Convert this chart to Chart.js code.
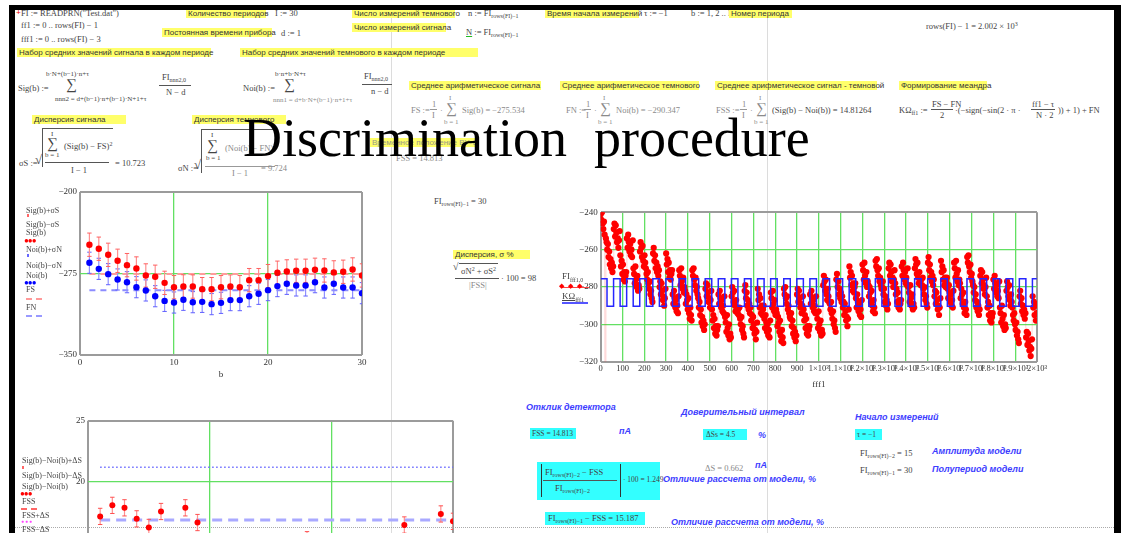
<!DOCTYPE html>
<html>
<head>
<meta charset="utf-8">
<script src="https://cdn.jsdelivr.net/npm/chart.js"></script>
<style>
  html, body { margin: 0; padding: 0; width: 1130px; height: 533px; overflow: hidden; background: #fff; }
  #page { position: absolute; left: 0; top: 0; width: 1130px; height: 533px; overflow: hidden; background: #fff; }
  .frame { position: absolute; background: #000; }
  .vline { position: absolute; top: 10px; width: 1px; height: 523px; background: #dcdcdc; }
  .hdots { position: absolute; left: 15px; top: 527px; width: 1099px; height: 0; border-top: 1px dotted #aaa; }
  canvas { position: absolute; }
  .m { position: absolute; font-family: "Liberation Serif", serif; font-size: 8.5px; color: #444; white-space: nowrap; line-height: 1; }
  .lt { color: #8a8a8a; }
  .s6 { font-size: 7px; }
  .sg { font-size: 15px; }
  .m sub { font-size: 6px; vertical-align: -2px; }
  .m sup { font-size: 6px; vertical-align: 3px; }
  .ru { position: absolute; font-family: "Liberation Sans", sans-serif; font-size: 8px; color: #333; background: #ffff6a; white-space: nowrap; line-height: 9px; padding: 0 2px; }
  .bar { position: absolute; height: 0; border-top: 1px solid #555; }
  .rad { position: absolute; border-top: 1px solid #555; border-left: 1px solid #555; }
  .bl { position: absolute; font-family: "Liberation Sans", sans-serif; font-style: italic; font-weight: bold; font-size: 9px; color: #3d3dff; white-space: nowrap; line-height: 1; }
  .cy { position: absolute; background: #3ff; }
  .lg { position: absolute; font-family: "Liberation Serif", serif; font-size: 8px; color: #444; white-space: nowrap; line-height: 1; }
  .sym { position: absolute; height: 0; }
  .dots { position: absolute; font-size: 8px; line-height: 1; letter-spacing: -1px; }
  #title { position: absolute; left: 243px; top: 111px; font-family: "Liberation Serif", serif; font-size: 54px; line-height: 54px; color: #000; white-space: pre; }
</style>
</head>
<body>
<div id="page">
  <!-- page boundaries of the worksheet -->
  <div class="vline" style="left:391px"></div>
  <div class="vline" style="left:767px"></div>
  <div class="hdots"></div>

  <!-- plots -->
  <canvas id="cBars" width="340" height="200" style="left:40px;top:180px"></canvas>
  <canvas id="cTrace" width="500" height="190" style="left:560px;top:200px"></canvas>
  <canvas id="cDiff" width="420" height="165" style="left:50px;top:410px"></canvas>

  <!-- header definitions -->
  <div class="m" style="left:16px;top:8px;color:#e00;font-weight:bold">+</div>
  <div class="m" style="left:21px;top:9px">FI := READPRN("Test.dat")</div>
  <div class="m" style="left:21px;top:21px">ff1 := 0 .. rows(FI) − 1</div>
  <div class="m" style="left:21px;top:35px">fff1 := 0 .. rows(FI) − 3</div>

  <div class="ru" style="left:186px;top:9px;width:76px">Количество периодов</div>
  <div class="m" style="left:275px;top:9px">I := 30</div>
  <div class="ru" style="left:162px;top:28px;width:106px">Постоянная времени прибора</div>
  <div class="m" style="left:281px;top:29px">d := 1</div>
  <div class="ru" style="left:352px;top:9px;width:99px">Число измерений темнового</div>
  <div class="m" style="left:468px;top:9px">n := FI<sub>rows(FI)−1</sub></div>
  <div class="ru" style="left:352px;top:23px;width:90px">Число измерений сигнала</div>
  <div class="m" style="left:466px;top:28px"><u style="text-decoration-color:#2b2">N</u> := FI<sub>rows(FI)−1</sub></div>
  <div class="ru" style="left:545px;top:9px;width:90px">Время начала измерений</div>
  <div class="m" style="left:644px;top:9px">τ := −1</div>
  <div class="m" style="left:691px;top:9px">b := 1, 2 .. I</div>
  <div class="ru" style="left:729px;top:9px;width:59px">Номер периода</div>
  <div class="m" style="left:926px;top:21px">rows(FI) − 1 = 2.002 × 10<sup>3</sup></div>

  <div class="ru" style="left:17px;top:48px;width:190px">Набор средних значений сигнала в каждом периоде</div>
  <div class="ru" style="left:240px;top:48px;width:234px">Набор средних значений темнового в каждом периоде</div>

  <!-- Sig(b) -->
  <div class="m" style="left:18px;top:84px">Sig(b) :=</div>
  <div class="m s6" style="left:46px;top:71px">b·N+(b−1)·n+τ</div>
  <div class="m sg" style="left:66px;top:77px">∑</div>
  <div class="m s6" style="left:55px;top:96px">nnn2 = d+(b−1)·n+(b−1)·N+1+τ</div>
  <div class="m" style="left:162px;top:73px">FI<sub>nnn2,0</sub></div>
  <div class="bar" style="left:159px;top:85px;width:32px"></div>
  <div class="m" style="left:166px;top:88px">N − d</div>

  <!-- Noi(b) -->
  <div class="m" style="left:243px;top:84px">Noi(b) :=</div>
  <div class="m s6" style="left:275px;top:71px">b·n+b·N+τ</div>
  <div class="m sg" style="left:284px;top:77px">∑</div>
  <div class="m s6 lt" style="left:273px;top:97px">nnn1 = d+b·N+(b−1)·n+1+τ</div>
  <div class="m" style="left:364px;top:72px">FI<sub>nnn2,0</sub></div>
  <div class="bar" style="left:362px;top:84px;width:30px"></div>
  <div class="m" style="left:371px;top:87px">n − d</div>

  <!-- averages -->
  <div class="ru" style="left:409px;top:81px;width:128px">Среднее арифметическое сигнала</div>
  <div class="m lt" style="left:411px;top:106px">FS :=</div>
  <div class="m lt" style="left:432px;top:100px">1</div>
  <div class="bar" style="left:430px;top:109px;width:7px;border-color:#999"></div>
  <div class="m lt" style="left:432px;top:111px">I</div>
  <div class="m lt" style="left:440px;top:106px">·</div>
  <div class="m lt s6" style="left:449px;top:95px">I</div>
  <div class="m lt sg" style="left:446px;top:101px">∑</div>
  <div class="m lt s6" style="left:444px;top:119px">b = 1</div>
  <div class="m lt" style="left:462px;top:106px">Sig(b) = −275.534</div>

  <div class="ru" style="left:560px;top:81px;width:135px">Среднее арифметическое темнового</div>
  <div class="m lt" style="left:566px;top:106px">FN :=</div>
  <div class="m lt" style="left:586px;top:100px">1</div>
  <div class="bar" style="left:584px;top:109px;width:7px;border-color:#999"></div>
  <div class="m lt" style="left:586px;top:111px">I</div>
  <div class="m lt" style="left:594px;top:106px">·</div>
  <div class="m lt s6" style="left:603px;top:95px">I</div>
  <div class="m lt sg" style="left:600px;top:101px">∑</div>
  <div class="m lt s6" style="left:598px;top:119px">b = 1</div>
  <div class="m lt" style="left:616px;top:106px">Noi(b) = −290.347</div>

  <div class="ru" style="left:715px;top:81px;width:158px">Среднее арифметическое сигнал - темновой</div>
  <div class="m lt" style="left:716px;top:106px">FSS :=</div>
  <div class="m lt" style="left:742px;top:100px">1</div>
  <div class="bar" style="left:740px;top:109px;width:7px;border-color:#999"></div>
  <div class="m lt" style="left:742px;top:111px">I</div>
  <div class="m lt" style="left:750px;top:106px">·</div>
  <div class="m lt s6" style="left:759px;top:95px">I</div>
  <div class="m lt sg" style="left:756px;top:101px">∑</div>
  <div class="m lt s6" style="left:754px;top:119px">b = 1</div>
  <div class="m" style="left:772px;top:106px">(Sig(b) − Noi(b)) = 14.81264</div>

  <div class="ru" style="left:899px;top:81px;width:84px">Формирование меандра</div>
  <div class="m" style="left:899px;top:106px">KΩ<sub>ff1</sub> :=</div>
  <div class="m" style="left:932px;top:100px">FS − FN</div>
  <div class="bar" style="left:931px;top:109px;width:22px"></div>
  <div class="m" style="left:940px;top:111px">2</div>
  <div class="m" style="left:955px;top:106px">·(−sign(−sin(2 · π ·</div>
  <div class="m" style="left:1032px;top:100px">ff1 − τ</div>
  <div class="bar" style="left:1031px;top:109px;width:24px"></div>
  <div class="m" style="left:1036px;top:111px">N · 2</div>
  <div class="m" style="left:1058px;top:106px">)) + 1) + FN</div>

  <!-- dispersions -->
  <div class="ru" style="left:32px;top:115px;width:90px">Дисперсия сигнала</div>
  <div class="m" style="left:19px;top:159px">σS :=</div>
  <div class="m" style="left:35px;top:153px;font-size:13px">√</div>
  <div class="rad" style="left:42px;top:128px;width:70px;height:38px"></div>
  <div class="m s6" style="left:51px;top:131px">I</div>
  <div class="m sg" style="left:47px;top:136px">∑</div>
  <div class="m s6" style="left:45px;top:152px">b = 1</div>
  <div class="m" style="left:64px;top:141px">(Sig(b) − FS)<sup>2</sup></div>
  <div class="bar" style="left:45px;top:162px;width:64px"></div>
  <div class="m" style="left:71px;top:166px">I − 1</div>
  <div class="m" style="left:115px;top:159px">= 10.723</div>

  <div class="ru" style="left:192px;top:115px;width:90px">Дисперсия темнового</div>
  <div class="m" style="left:178px;top:164px">σN :=</div>
  <div class="m" style="left:194px;top:158px;font-size:13px">√</div>
  <div class="rad" style="left:201px;top:129px;width:74px;height:43px"></div>
  <div class="m s6" style="left:211px;top:132px">I</div>
  <div class="m sg" style="left:207px;top:138px">∑</div>
  <div class="m s6" style="left:206px;top:155px">b = 1</div>
  <div class="m lt" style="left:225px;top:143px">(Noi(b) − FN)<sup>2</sup></div>
  <div class="bar" style="left:205px;top:166px;width:70px;border-color:#999"></div>
  <div class="m lt" style="left:232px;top:169px">I − 1</div>
  <div class="m lt" style="left:261px;top:164px">= 9.724</div>

  <div class="ru" style="left:370px;top:138px;width:102px;color:#998">Временное положение ВУ-С</div>
  <div class="m lt" style="left:396px;top:154px">FSS = 14.813</div>

  <div class="m" style="left:434px;top:197px">FI<sub>rows(FI)−1</sub> = 30</div>

  <div class="ru" style="left:453px;top:250px;width:73px">Дисперсия, σ %</div>
  <div class="m" style="left:453px;top:262px;font-size:10px">√</div>
  <div class="bar" style="left:459px;top:263px;width:39px"></div>
  <div class="m" style="left:461px;top:266px">σN<sup>2</sup> + σS<sup>2</sup></div>
  <div class="bar" style="left:455px;top:278px;width:44px"></div>
  <div class="m lt" style="left:469px;top:281px">|FSS|</div>
  <div class="m" style="left:501px;top:274px">· 100 = 98</div>

  <!-- legend of the period plot -->
  <div class="lg" style="left:26px;top:207px">Sig(b)+σS</div>
  <div class="sym" style="left:27px;top:214px;width:2px;height:3px;background:#f66"></div>
  <div class="lg" style="left:26px;top:221px">Sig(b)−σS</div>
  <div class="lg" style="left:26px;top:229px">Sig(b)</div>
  <div class="dots" style="left:24px;top:237px;color:#f00">●●●</div>
  <div class="lg" style="left:26px;top:246px">Noi(b)+σN</div>
  <div class="sym" style="left:27px;top:254px;width:2px;height:3px;background:#66f"></div>
  <div class="lg" style="left:26px;top:262px">Noi(b)−σN</div>
  <div class="lg" style="left:26px;top:272px">Noi(b)</div>
  <div class="dots" style="left:24px;top:279px;color:#00f">●●●</div>
  <div class="lg" style="left:26px;top:286px">FS</div>
  <div class="sym" style="left:26px;top:298px;width:16px;border-top:2px dashed #f99"></div>
  <div class="lg" style="left:26px;top:304px">FN</div>
  <div class="sym" style="left:26px;top:315px;width:16px;border-top:2px dashed #99f"></div>

  <!-- legend of the sample trace -->
  <div class="lg" style="left:562px;top:272px;font-size:9px">FI<sub style="font-size:6px">fff1,0</sub></div>
  <div class="sym" style="left:561px;top:287px;width:28px;border-top:1px solid #f44"></div>
  <div class="dots" style="left:559px;top:283px;color:#f00;letter-spacing:4px;font-size:7px">◆◆◆</div>
  <div class="lg" style="left:562px;top:292px;font-size:9px"><u>KΩ<sub style="font-size:6px">fff1</sub></u></div>
  <div class="sym" style="left:562px;top:302px;width:26px;border-top:2px solid #55f"></div>

  <!-- legend of the difference plot -->
  <div class="lg" style="left:22px;top:457px">Sig(b)−Noi(b)+ΔS</div>
  <div class="sym" style="left:22px;top:466px;width:2px;height:3px;background:#f66"></div>
  <div class="lg" style="left:22px;top:472px">Sig(b)−Noi(b)−ΔS</div>
  <div class="lg" style="left:22px;top:483px">Sig(b)−Noi(b)</div>
  <div class="dots" style="left:20px;top:490px;color:#f00">●●●</div>
  <div class="lg" style="left:22px;top:498px">FSS</div>
  <div class="sym" style="left:21px;top:508px;width:16px;border-top:2px dashed #f66"></div>
  <div class="lg" style="left:22px;top:512px">FSS+ΔS</div>
  <div class="dots" style="left:21px;top:519px;color:#f4f;font-size:5px;letter-spacing:1px">●●●</div>
  <div class="lg" style="left:22px;top:526px">FSS−ΔS</div>

  <!-- results -->
  <div class="bl" style="left:526px;top:403px">Отклик детектора</div>
  <div class="cy" style="left:530px;top:428px;width:46px;height:11px"></div>
  <div class="m" style="left:532px;top:430px;font-size:7.5px">FSS = 14.813</div>
  <div class="bl" style="left:619px;top:427px">пА</div>

  <div class="bl" style="left:681px;top:408px">Доверительный интервал</div>
  <div class="cy" style="left:703px;top:429px;width:44px;height:11px"></div>
  <div class="m" style="left:706px;top:431px;font-size:7.5px">ΔSs = 4.5</div>
  <div class="bl" style="left:758px;top:431px">%</div>

  <div class="bl" style="left:855px;top:413px">Начало измерений</div>
  <div class="cy" style="left:855px;top:429px;width:27px;height:11px"></div>
  <div class="m" style="left:857px;top:431px;font-size:7.5px">τ = −1</div>
  <div class="m" style="left:860px;top:449px">FI<sub>rows(FI)−2</sub> = 15</div>
  <div class="bl" style="left:932px;top:447px">Амплитуда модели</div>
  <div class="m" style="left:860px;top:466px">FI<sub>rows(FI)−1</sub> = 30</div>
  <div class="bl" style="left:932px;top:465px">Полупериод модели</div>

  <div class="m lt" style="left:705px;top:464px">ΔS = 0.662</div>
  <div class="bl" style="left:755px;top:461px">пА</div>

  <div class="cy" style="left:537px;top:462px;width:123px;height:38px"></div>
  <div class="sym" style="left:541px;top:464px;width:0;height:33px;border-left:1px solid #333"></div>
  <div class="m" style="left:545px;top:468px">FI<sub>rows(FI)−2</sub> − FSS</div>
  <div class="bar" style="left:543px;top:480px;width:74px"></div>
  <div class="m" style="left:555px;top:484px">FI<sub>rows(FI)−2</sub></div>
  <div class="sym" style="left:620px;top:464px;width:0;height:33px;border-left:1px solid #333"></div>
  <div class="m" style="left:623px;top:476px;font-size:7.5px">· 100 = 1.249</div>
  <div class="bl" style="left:663px;top:475px">Отличие рассчета от модели, %</div>

  <div class="cy" style="left:545px;top:512px;width:100px;height:13px"></div>
  <div class="m" style="left:548px;top:514px">FI<sub>rows(FI)−1</sub> − FSS = 15.187</div>
  <div class="bl" style="left:671px;top:518px">Отличие рассчета от модели, %</div>

  <div id="title">Discrimination  procedure</div>

  <!-- worksheet frame -->
  <div class="frame" style="left:9px;top:5px;width:1112px;height:5px"></div>
  <div class="frame" style="left:9px;top:5px;width:6px;height:528px"></div>
  <div class="frame" style="left:1114px;top:5px;width:7px;height:528px"></div>
</div>

<script>
// ---------- period averages ----------
const periods = [1,2,3,4,5,6,7,8,9,10,11,12,13,14,15,16,17,18,19,20,21,22,23,24,25,26,27,28,29,30];
const sigMeans = [-248.5,-252.2,-257.8,-263.3,-267.3,-270.4,-276.8,-278.0,-283.6,-287.6,
                  -286.9,-287.0,-289.4,-289.4,-287.6,-287.0,-287.6,-281.1,-281.1,-277.4,
                  -274.3,-273.1,-272.5,-272.5,-271.6,-272.2,-274.0,-273.4,-271.3,-276.8];
const noiMeans = [-265.1,-270.7,-275.6,-280.5,-283.0,-287.6,-290.6,-295.9,-300.2,-301.7,
                  -299.2,-301.4,-301.1,-303.2,-302.0,-299.5,-299.5,-295.9,-293.7,-290.3,
                  -286.6,-284.5,-286.0,-286.0,-283.0,-287.9,-284.5,-287.9,-287.9,-293.1];
const sigmaS = 10.723;
const sigmaN = 9.724;
const FS = -275.534;
const FN = -290.347;
const barTicksX = [0, 10, 20, 30];
const barTicksY = [-350, -275, -200];

// ---------- signal minus dark per period ----------
const diffMeans = [17.2,18.1,17.9,17.0,16.3,17.6,14.3,17.9,16.7,14.6,
                   12.8,14.9,12.2,14.3,14.9,13.0,12.4,15.3,13.1,13.4,
                   12.8,11.9,14.0,14.0,11.9,16.5,11.0,15.0,17.4,16.8];
const deltaS = 0.662;
const diffUpperLevel = 21.2;
const diffMidLevel = 16.9;
const diffTicksY = [15, 20, 25];

// ---------- raw readout, every 3rd sample (ff1 = 0, 3, 6 ...), one row per half-period ----------
const fiStep = 3;
const fiTrace = [
  -241,-244,-240,-246,-249,-245,-252,-420,-254,-256,
  -260,-257,-264,-261,-268,-265,-270,-267,-272,-269,
  -249,-246,-253,-247,-251,-256,-254,-259,-255,-250,
  -263,-269,-266,-273,-268,-276,-272,-277,-274,-272,
  -254,-259,-252,-256,-261,-257,-263,-260,-264,-255,
  -270,-273,-278,-269,-276,-280,-274,-282,-279,-281,
  -261,-256,-259,-264,-258,-266,-269,-263,-267,-270,
  -273,-276,-272,-278,-281,-277,-284,-282,-286,-288,
  -262,-259,-266,-263,-270,-267,-272,-269,-274,-271,
  -280,-277,-284,-278,-282,-287,-285,-290,-286,-281,
  -262,-268,-265,-272,-267,-275,-271,-276,-273,-271,
  -284,-289,-282,-286,-291,-287,-293,-290,-294,-285,
  -271,-274,-279,-270,-277,-281,-275,-283,-280,-282,
  -289,-284,-287,-292,-286,-294,-297,-291,-295,-298,
  -271,-274,-270,-276,-279,-275,-282,-280,-284,-286,
  -291,-288,-295,-292,-299,-296,-301,-298,-303,-300,
  -281,-278,-285,-279,-283,-288,-286,-291,-287,-282,
  -292,-298,-295,-302,-297,-305,-301,-306,-303,-301,
  -284,-289,-282,-286,-291,-287,-293,-290,-294,-285,
  -296,-299,-304,-295,-302,-306,-300,-308,-305,-307,
  -285,-280,-283,-288,-282,-290,-293,-287,-291,-294,
  -292,-295,-291,-297,-300,-296,-303,-301,-305,-307,
  -282,-279,-286,-283,-290,-287,-292,-289,-294,-291,
  -298,-295,-302,-296,-300,-305,-303,-308,-304,-299,
  -281,-287,-284,-291,-286,-294,-290,-295,-292,-290,
  -297,-302,-295,-299,-304,-300,-306,-303,-307,-298,
  -283,-286,-291,-282,-289,-293,-287,-295,-292,-294,
  -301,-296,-299,-304,-298,-306,-309,-303,-307,-310,
  -281,-284,-280,-286,-289,-285,-292,-290,-294,-296,
  -297,-294,-301,-298,-305,-302,-307,-304,-309,-306,
  -284,-281,-288,-282,-286,-291,-289,-294,-290,-285,
  -292,-298,-295,-302,-297,-305,-301,-306,-303,-301,
  -284,-289,-282,-286,-291,-287,-293,-290,-294,-285,
  -294,-297,-302,-293,-300,-304,-298,-306,-303,-305,
  -279,-274,-277,-282,-276,-284,-287,-281,-285,-288,
  -289,-292,-288,-294,-297,-293,-300,-298,-302,-304,
  -276,-273,-280,-277,-284,-281,-286,-283,-288,-285,
  -291,-288,-295,-289,-293,-298,-296,-301,-297,-292,
  -269,-275,-272,-279,-274,-282,-278,-283,-280,-278,
  -286,-291,-284,-288,-293,-289,-295,-292,-296,-287,
  -268,-271,-276,-267,-274,-278,-272,-280,-277,-279,
  -285,-280,-283,-288,-282,-290,-293,-287,-291,-294,
  -266,-269,-265,-271,-274,-270,-277,-275,-279,-281,
  -280,-277,-284,-281,-288,-285,-290,-287,-292,-289,
  -270,-267,-274,-268,-272,-277,-275,-280,-276,-271,
  -278,-284,-281,-288,-283,-291,-287,-292,-289,-287,
  -269,-274,-267,-271,-276,-272,-278,-275,-279,-270,
  -280,-283,-288,-279,-286,-290,-284,-292,-289,-291,
  -270,-265,-268,-273,-267,-275,-278,-272,-276,-279,
  -276,-279,-275,-281,-284,-280,-287,-285,-289,-291,
  -267,-264,-271,-268,-275,-272,-277,-274,-279,-276,
  -285,-282,-289,-283,-287,-292,-290,-295,-291,-286,
  -266,-272,-269,-276,-271,-279,-275,-280,-277,-275,
  -281,-286,-279,-283,-288,-284,-290,-287,-291,-282,
  -267,-270,-275,-266,-273,-277,-271,-279,-276,-278,
  -286,-281,-284,-289,-283,-291,-294,-288,-292,-295,
  -264,-267,-263,-269,-272,-268,-275,-273,-277,-279,
  -283,-280,-287,-284,-291,-288,-293,-290,-295,-292,
  -274,-271,-278,-272,-276,-281,-279,-284,-280,-275,
  -285,-291,-288,-295,-290,-298,-294,-299,-296,-294,
  -276,-281,-274,-278,-283,-279,-285,-282,-286,-277,
  -291,-294,-299,-290,-297,-301,-295,-303,-300,-302,
  -282,-277,-280,-285,-279,-287,-290,-284,-288,-291,
  -295,-298,-294,-300,-303,-299,-306,-304,-308,-310,
  -285,-282,-289,-286,-293,-290,-295,-292,-297,-294,
  -307,-304,-311,-305,-309,-314,-312,-317,-313,-308,
  -285,-291,-288,-295,-290,-298,-294
];

// switching samples of the model meander (high = FS, low = FN)
const meanderEdges = [0,29,59,89,119,149,179,209,239,269,299,329,359,389,419,449,479,509,539,569,
                      599,629,659,689,719,749,779,809,839,869,899,929,959,989,1019,1049,1079,1109,
                      1139,1169,1199,1229,1259,1289,1319,1349,1379,1409,1439,1469,1499,1529,1559,
                      1589,1619,1649,1679,1709,1739,1769,1799,1829,1859,1889,1919,1949,1979];
const meanderEnd = 1999;

const traceTicksX = [0,100,200,300,400,500,600,700,800,900,1000,1100,1200,1300,1400,1500,1600,1700,1800,1900,2000];
const traceTickLabels = ['0','100','200','300','400','500','600','700','800','900',
  '1×10³','1.1×10³','1.2×10³','1.3×10³','1.4×10³','1.5×10³','1.6×10³','1.7×10³','1.8×10³','1.9×10³','2×10³'];
const traceTicksY = [-320, -300, -280, -260, -240];

// ---------- helpers ----------
const serif = 'Liberation Serif';
const tickFont = { family: serif, size: 9 };
const frameColor = '#9b9b9b';
const gridGreen = '#62e062';

const minusLabel = v => (v < 0 ? '\u2212' + Math.abs(v) : String(v));

function fixedTicks(values) {
  return scale => { scale.ticks = values.map(v => ({ value: v })); };
}

function frameGrid(lo, hi) {
  const edge = c => c.tick && (c.tick.value === lo || c.tick.value === hi);
  return {
    drawTicks: false,
    color: c => (edge(c) ? frameColor : gridGreen),
    lineWidth: c => (edge(c) ? 2 : 1.3)
  };
}

// vertical whiskers value ± d, one separated segment per x
function whiskers(xs, ys, d) {
  const pts = [];
  xs.forEach((x, i) => {
    pts.push({ x: x, y: ys[i] - d });
    pts.push({ x: x, y: ys[i] + d });
    pts.push({ x: x, y: null });
  });
  return pts;
}

const points = (xs, ys) => xs.map((x, i) => ({ x: x, y: ys[i] }));
const level = (xs, v) => [{ x: xs[0], y: v }, { x: xs[xs.length - 1], y: v }];

const baseOptions = {
  responsive: false,
  animation: false,
  devicePixelRatio: 1,
  plugins: { legend: { display: false }, tooltip: { enabled: false } },
  elements: { line: { tension: 0 } }
};

function axis(min, max, ticks, fit, tickExtra, extra) {
  return Object.assign({
    type: 'linear', min: min, max: max,
    afterBuildTicks: fixedTicks(ticks),
    afterFit: fit,
    grid: frameGrid(min, max),
    border: { display: false },
    ticks: Object.assign({ font: tickFont, color: '#333', maxRotation: 0, minRotation: 0, autoSkip: false, padding: 3 }, tickExtra || {})
  }, extra || {});
}

// ---------- period averages with dispersion ----------
new Chart(document.getElementById('cBars'), {
  type: 'line',
  data: {
    datasets: [
      { data: points(periods, sigMeans), showLine: false, pointRadius: 3.2,
        pointBackgroundColor: '#ff0000', pointBorderWidth: 0 },
      { data: points(periods, noiMeans), showLine: false, pointRadius: 3.2,
        pointBackgroundColor: '#0000ff', pointBorderWidth: 0 },
      { data: whiskers(periods, sigMeans, sigmaS), borderColor: '#ff8f8f', borderWidth: 1.2,
        spanGaps: false, pointStyle: 'line', pointRadius: 2.2, pointBorderColor: '#ff6060', pointBorderWidth: 1 },
      { data: whiskers(periods, noiMeans, sigmaN), borderColor: '#8f8fff', borderWidth: 1.2,
        spanGaps: false, pointStyle: 'line', pointRadius: 2.2, pointBorderColor: '#6060ff', pointBorderWidth: 1 },
      { data: level(periods, FS), borderColor: '#ff9c9c', borderWidth: 2, borderDash: [6, 5], pointRadius: 0 },
      { data: level(periods, FN), borderColor: '#8c8cff', borderWidth: 2, borderDash: [6, 5], pointRadius: 0 }
    ]
  },
  options: Object.assign({}, baseOptions, {
    layout: { padding: { top: 12, right: 18, left: 0, bottom: 0 } },
    scales: {
      x: axis(0, 30, barTicksX, s => { s.height = 25; }, { padding: 2 }, {
        title: { display: true, text: 'b', font: tickFont, color: '#333', padding: 0 }
      }),
      y: axis(-350, -200, barTicksY, s => { s.width = 40; }, { callback: minusLabel })
    }
  })
});

// ---------- readout and model meander ----------
const fiPoints = fiTrace.map((v, i) => ({ x: i * fiStep, y: v }));
const meanderPoints = meanderEdges.map((x, i) => ({ x: x, y: i % 2 === 0 ? FS : FN }));
meanderPoints.push({ x: meanderEnd, y: meanderPoints[meanderPoints.length - 1].y });

new Chart(document.getElementById('cTrace'), {
  type: 'line',
  data: {
    datasets: [
      { data: meanderPoints, stepped: true, borderColor: '#2626ff', borderWidth: 1.5, pointRadius: 0 },
      { data: fiPoints, borderColor: 'rgba(255,60,60,0.3)', borderWidth: 0.7, pointRadius: 3.1,
        pointStyle: 'circle', pointBackgroundColor: '#ff0000', pointBorderWidth: 0 }
    ]
  },
  options: Object.assign({}, baseOptions, {
    layout: { padding: { top: 12.3, right: 23, left: 0, bottom: 0 } },
    scales: {
      x: axis(0, 2000, traceTicksX, s => { s.height = 28.3; }, {
        padding: 2,
        font: { family: serif, size: 8.5 },
        callback: v => traceTickLabels[traceTicksX.indexOf(v)]
      }, {
        title: { display: true, text: 'fff1', font: tickFont, color: '#333', padding: 0 }
      }),
      y: axis(-320, -240, traceTicksY, s => { s.width = 40.7; }, { callback: minusLabel })
    }
  })
});

// ---------- signal minus dark ----------
new Chart(document.getElementById('cDiff'), {
  type: 'line',
  data: {
    datasets: [
      { data: points(periods, diffMeans), showLine: false, pointRadius: 3,
        pointBackgroundColor: '#ff0000', pointBorderWidth: 0 },
      { data: whiskers(periods, diffMeans, deltaS), borderColor: '#ff8f8f', borderWidth: 1.2,
        spanGaps: false, pointStyle: 'line', pointRadius: 2.2, pointBorderColor: '#ff5050', pointBorderWidth: 1 },
      { data: level(periods, diffUpperLevel), borderColor: '#6b6bff', borderWidth: 1.5, borderDash: [1.5, 2.5], pointRadius: 0 },
      { data: level(periods, diffMidLevel), borderColor: '#a9a9ff', borderWidth: 3, borderDash: [10, 6], pointRadius: 0 }
    ]
  },
  options: Object.assign({}, baseOptions, {
    layout: { padding: { top: 10.7, right: 17, left: 0, bottom: 0 } },
    scales: {
      x: axis(0, 30, barTicksX, s => { s.height = 31.6; }),
      y: axis(15, 25, diffTicksY, s => { s.width = 38; })
    }
  })
});
</script>
</body>
</html>
